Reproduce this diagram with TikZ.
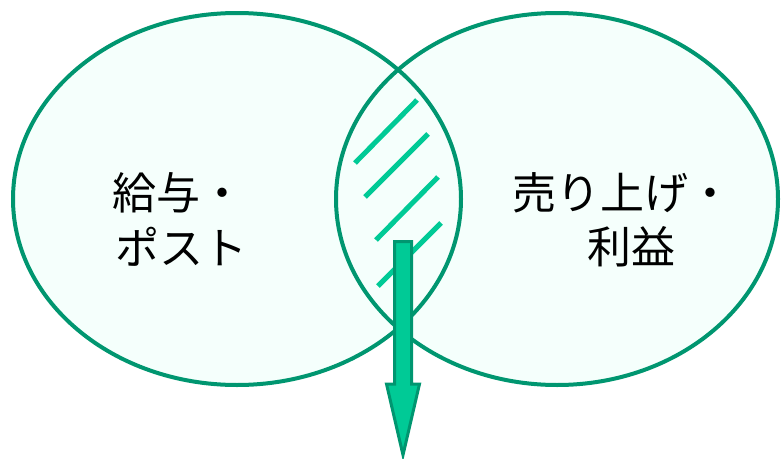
\documentclass[tikz,border=0pt]{standalone}
\usepackage{fontspec}
\newfontfamily\jp{Noto Sans CJK JP}
\usetikzlibrary{shapes.geometric}
\definecolor{dkgreen}{HTML}{009670}
\definecolor{ltgreen}{HTML}{00CA96}
\definecolor{paleft}{HTML}{F5FFFC}
\tikzset{
  venn/.style={ellipse, inner sep=0pt, outer sep=0pt},
  vennfill/.style={venn, fill=paleft},
  venndraw/.style={venn, draw=dkgreen, line width=4pt},
  hatchline/.style={draw=ltgreen, line width=5pt},
  lbl/.style={font=\jp\fontsize{44pt}{50pt}\selectfont, inner sep=0pt, text=black},
  bigarrow/.style={draw=dkgreen, fill=ltgreen, line width=3pt, line join=miter}
}
\begin{document}
\begin{tikzpicture}[x=1pt,y=-1pt]
\useasboundingbox (0,0) rectangle (782,458);
% fills
\node[vennfill, minimum width=448pt, minimum height=372pt] (Lf) at (237,199) {};
\node[vennfill, minimum width=442pt, minimum height=372pt] (Rf) at (557,199) {};
% hatching in the overlap
\draw[hatchline] (355,163) -- (417,100);
\draw[hatchline] (365,197) -- (428,134);
\draw[hatchline] (376,240) -- (438,177);
\draw[hatchline] (378,286) -- (441,223);
% outlines
\node[venndraw, minimum width=448pt, minimum height=372pt] (L) at (237,199) {};
\node[venndraw, minimum width=442pt, minimum height=372pt] (R) at (557,199) {};
% labels
\node[lbl] (l1) at (178,193) {給与・};
\node[lbl] (l2) at (181,247) {ポスト};
\node[lbl] (r1) at (622,193) {売り上げ・};
\node[lbl] (r2) at (631,247) {利益};
% arrow
\coordinate (tip) at (403,455);
\draw[bigarrow] (394.5,241.5) -- (411.5,241.5) -- (411.5,384) -- (419.5,384)
  -- (tip) -- (386.5,384) -- (394.5,384) -- cycle;
\end{tikzpicture}
\end{document}
